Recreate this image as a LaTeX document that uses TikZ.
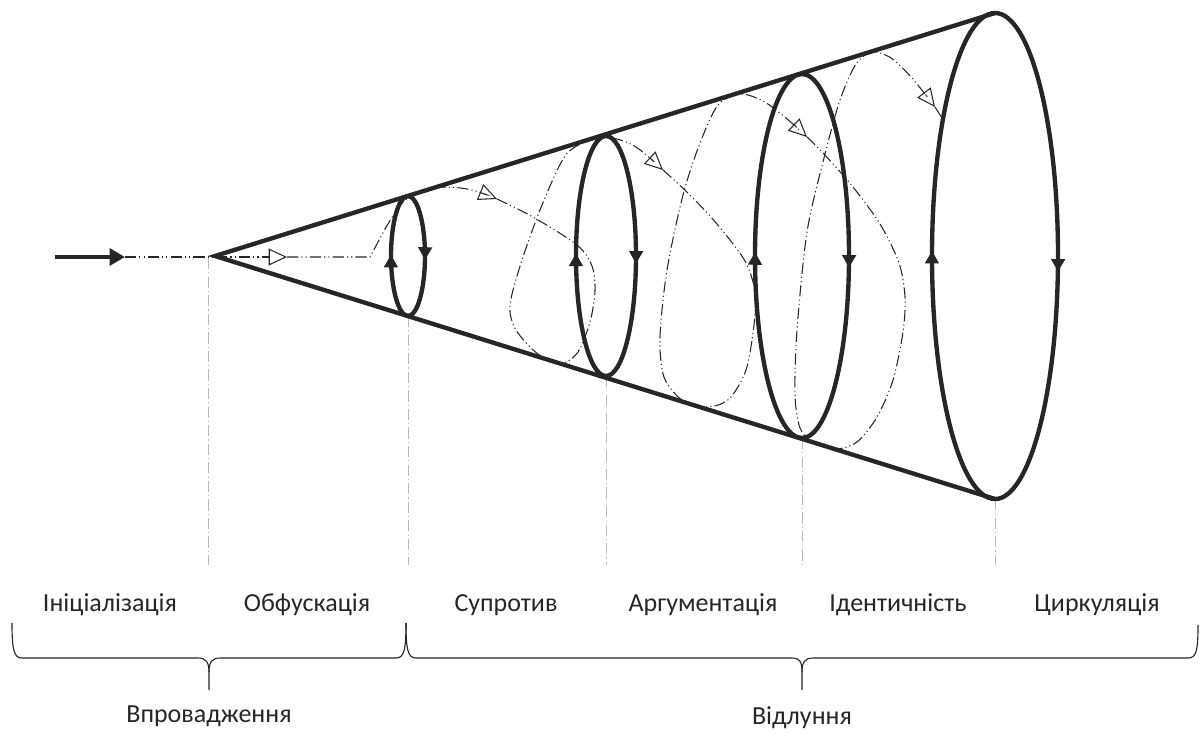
\documentclass[tikz,border=0pt]{standalone}
\usepackage{fontspec}
\setmainfont{Carlito}
\usetikzlibrary{arrows.meta,decorations.markings}
\definecolor{ink}{HTML}{262626}

\begin{document}
\begin{tikzpicture}[
    x=0.025cm, y=-0.025cm,
    font=\fontsize{18.5}{22}\selectfont,
    cone/.style={draw=ink, line width=3.1pt, line join=miter},
    ring/.style={
        draw=ink,
        line width=3.1pt,
        postaction={decorate},
        decoration={markings,
            mark=at position 0.265 with {\arrow{Triangle[length=9pt,width=9.5pt]}},
            mark=at position 0.755 with {\arrow{Triangle[length=9pt,width=9.5pt]}}}
    },
    inarrow/.style={draw=ink, line width=3pt, -{Triangle[length=11pt,width=12pt]}},
    flow/.style={draw=ink, line width=0.75pt, dash pattern=on 8pt off 2.2pt on 0.8pt off 2.2pt on 0.8pt off 2.2pt},
    flowarrow/.style={flow, -{Triangle[open,length=13pt,width=12pt,line width=0.75pt]}},
    guide/.style={draw=gray!55, line width=0.7pt, dash pattern=on 8pt off 2.2pt on 0.8pt off 2.2pt},
    brc/.style={draw=ink, line width=0.8pt},
    phase/.style={text=ink, inner sep=0pt}
]
\useasboundingbox (0,0) rectangle (1202,733);

\coordinate (apex) at (215,256);
\coordinate (start) at (55,257);
\coordinate (entry) at (125,257);
\foreach \n/\x/\ry in {1/408/60, 2/606/120, 3/802/182, 4/995/243}{
    \coordinate (top\n) at (\x,{256-\ry});
    \coordinate (bot\n) at (\x,{256+\ry});
    \coordinate (end\n) at (\x,565);
}
\coordinate (end0) at (208,565);

% guide lines
\draw[guide] (208,258) -- (end0);
\foreach \n in {1,...,4}
    \draw[guide] (bot\n) -- (end\n);

% path of the message
\draw[flowarrow] (entry) -- (287,257);
\draw[flowarrow] (287,257) -- (370,257) -- plot[smooth] coordinates {(385,229) (402,203) (420,192) (445,187) (472,190) (497,199)};
\draw[flowarrow] plot[smooth] coordinates {(497,199) (533,217) (577,245) (592,266) (595,291) (590,322) (578,352) (562,363) (538,354) (516,330) (510,305) (522,260) (542,205) (565,156) (588,141) (612,138) (636,147) (663,170)};
\draw[flowarrow] plot[smooth] coordinates {(663,170) (688,193) (717,224) (745,261) (755,292) (754,325) (746,370) (729,399) (707,407) (682,400) (664,377) (660,337) (667,270) (683,195) (700,143) (718,105) (740,94) (763,101) (786,118) (807,137)};
\draw[flowarrow] plot[smooth] coordinates {(807,137) (824,154) (853,187) (880,224) (899,263) (905,297) (903,332) (893,380) (877,417) (857,442) (835,449) (812,441) (800,428) (795,395) (797,330) (807,232) (824,158) (840,100) (856,64) (872,52) (891,58) (912,78) (935,107)};
\draw[flow] (935,107) -- (942,118);

% cone and rings
\draw[inarrow] (start) -- (entry);
\draw[cone] (top4) -- (apex) -- (bot4);
\foreach \n/\rx/\ry in {1/17/60, 2/30/120, 3/47/182, 4/63/243}
    \draw[ring] (top\n) arc[start angle=-90, end angle=270, x radius=\rx, y radius=\ry];

% phases
\foreach \name/\x/\txt in {init/110/Ініціалізація, obf/307/Обфускація, resist/506/Супротив,
        argum/703/Аргументація, ident/898/Ідентичність, circ/1097/Циркуляція}
    \node[phase] (\name) at (\x,605) {\txt};

% braces
\draw[brc] (12,623) .. controls (12,650) and (14,658) .. (22,658) -- (198,658)
    .. controls (206,658) and (209,662) .. (209,672) -- (209,690);
\draw[brc] (209,672) .. controls (209,662) and (212,658) .. (220,658) -- (396,658)
    .. controls (404,658) and (406,650) .. (406,623);
\draw[brc] (406,623) .. controls (406,650) and (408,658) .. (416,658) -- (792,658)
    .. controls (800,658) and (802,662) .. (802,672) -- (802,690);
\draw[brc] (802,672) .. controls (802,662) and (805,658) .. (813,658) -- (1188,658)
    .. controls (1196,658) and (1198,652) .. (1198,625);

\node[phase] (intro) at (209,716) {Впровадження};
\node[phase] (echo) at (802,718) {Відлуння};
\end{tikzpicture}
\end{document}
